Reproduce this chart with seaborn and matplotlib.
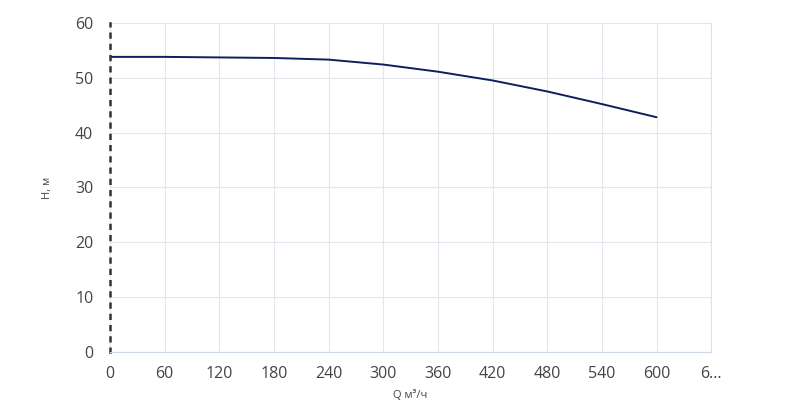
import matplotlib
matplotlib.use("Agg")
import matplotlib.pyplot as plt
import seaborn as sns
import pandas as pd

q = [0, 60, 120, 180, 240, 300, 360, 420, 480, 540, 600]
h = [53.8, 53.8, 53.7, 53.6, 53.3, 52.4, 51.1, 49.5, 47.5, 45.2, 42.8]
xticks = [0, 60, 120, 180, 240, 300, 360, 420, 480, 540, 600, 660]
xlabels = ["0", "60", "120", "180", "240", "300", "360", "420", "480", "540", "600", "6..."]
yticks = [0, 10, 20, 30, 40, 50, 60]

sns.set_style("white")
plt.rcParams['font.family'] = ['Open Sans', 'DejaVu Sans']
fig = plt.figure(figsize=(8, 4.08), dpi=100)
ax = fig.add_axes([0.1375, 0.137, 0.7515, 0.807])
df = pd.DataFrame({"Q": q, "H": h})
sns.lineplot(data=df, x="Q", y="H", ax=ax, color="#0d1f5c", linewidth=1.4)
ax.set_xlim(0, 660)
ax.set_ylim(0, 60)
ax.set_xticks(xticks)
ax.set_xticklabels(xlabels)
ax.set_yticks(yticks)
ax.grid(True, color="#e3e6ee", linewidth=0.8)
ax.spines["top"].set_visible(False)
ax.spines["right"].set_color("#dde1ea")
ax.spines["bottom"].set_color("#ccd6eb")
ax.spines["left"].set_color("#333333")
ax.spines["left"].set_linestyle((0, (1.5, 3)))
ax.spines["left"].set_linewidth(1.8)
ax.tick_params(axis="x", colors="#ccd6eb", labelcolor="#444444", length=8, labelsize=11.5, direction="out", pad=2)
ax.tick_params(axis="y", length=0, labelcolor="#444444", labelsize=11.5, pad=12)
ax.set_xlabel("Q м³/ч", fontsize=8, color="#444444", labelpad=6)
ax.set_ylabel("H, м", fontsize=8, color="#444444", labelpad=16)
fig.savefig("out.png")
